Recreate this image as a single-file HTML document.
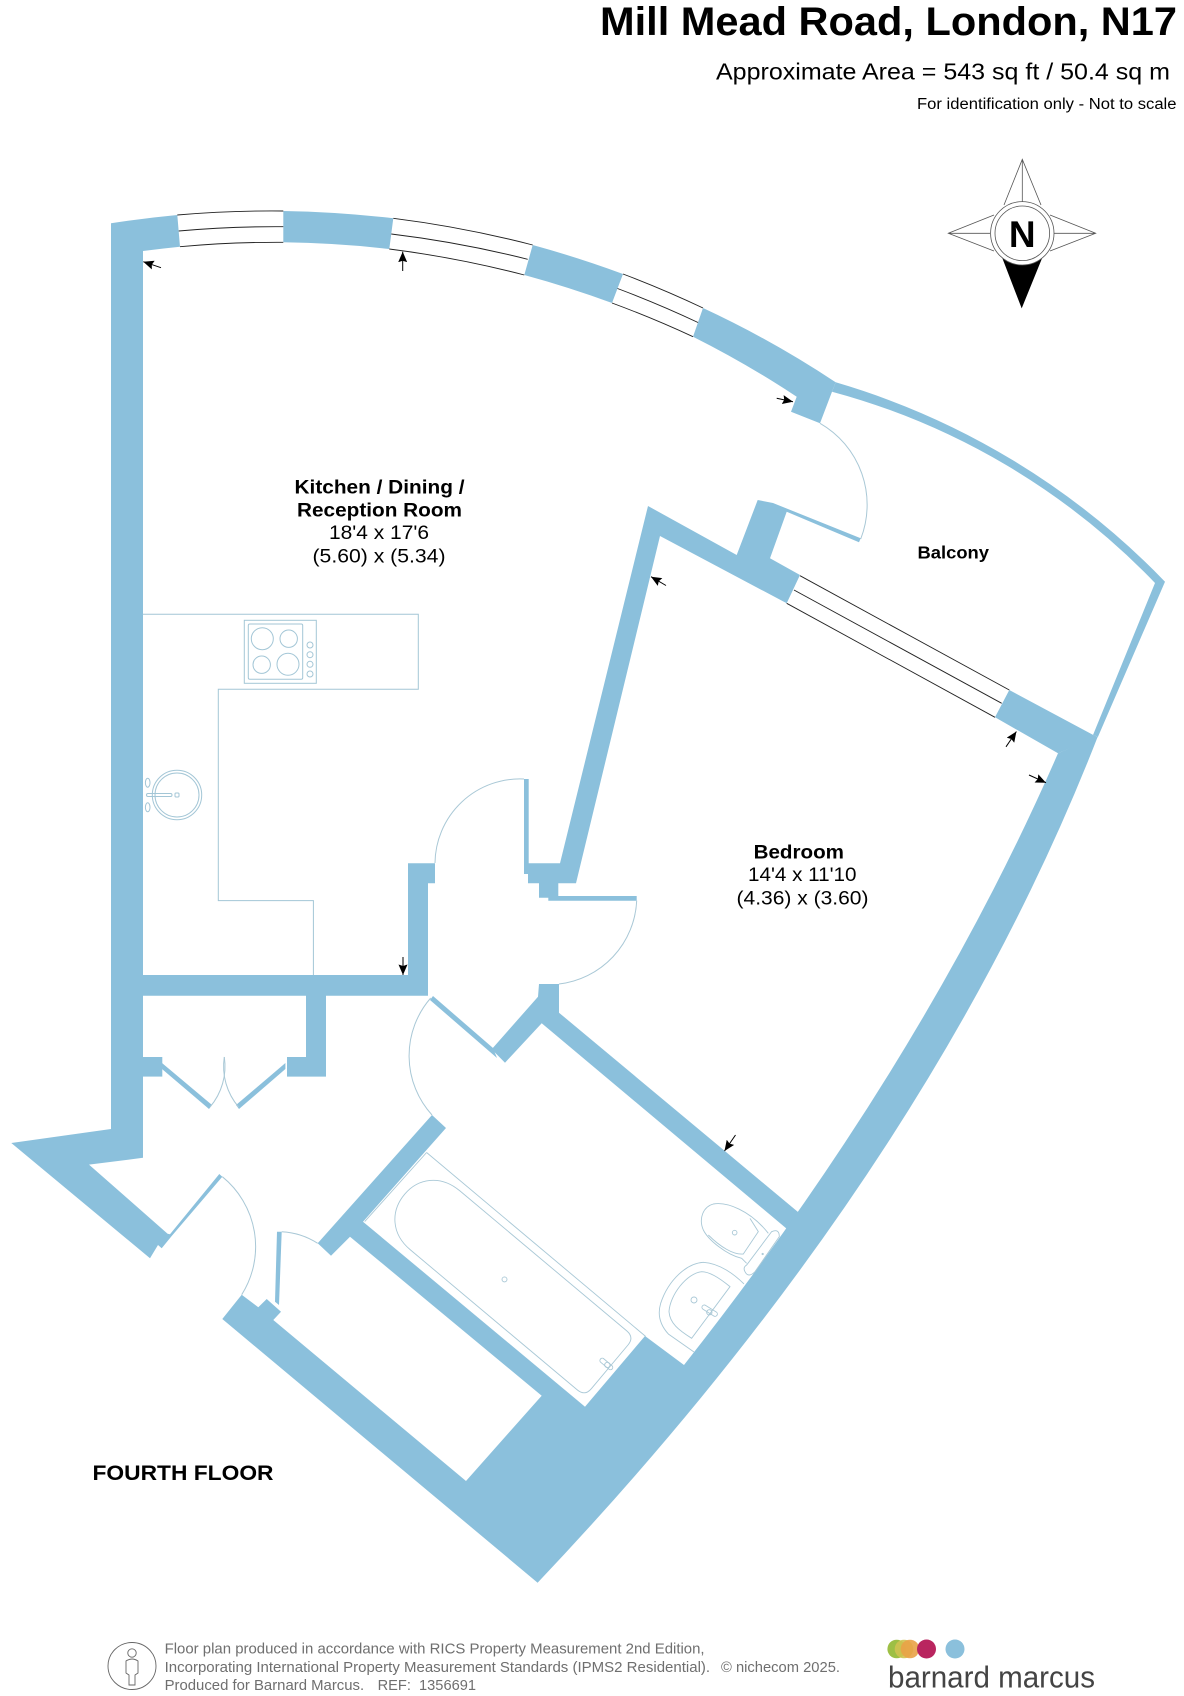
<!DOCTYPE html>
<html><head><meta charset="utf-8"><title>Mill Mead Road, London, N17</title>
<style>html,body{margin:0;padding:0;background:#fff}svg{display:block}text{font-family:"Liberation Sans",sans-serif}</style></head>
<body>
<svg xmlns="http://www.w3.org/2000/svg" width="1184" height="1696" viewBox="0 0 1184 1696">
<defs><marker id="a" markerUnits="userSpaceOnUse" markerWidth="12" markerHeight="10" refX="10.5" refY="4.5" orient="auto"><path d="M0,0L10.5,4.5L0,9L1.5,4.5Z" fill="#000"/></marker></defs>
<rect width="1184" height="1696" fill="#fff"/>

<g fill="#8bc0dc">
<!-- left wall and first wall segment -->
<path d="M111,223.3 A1100,1100 0 0 1 177.3,215 L180,246.7 A1070,1070 0 0 0 143,251 L143,1157.8 L89,1164.6 L167.6,1233.8 L170,1234.3 L219.3,1174 L222.3,1176.7 L171.7,1236 L161.7,1248.3 L158,1245 L150,1258.3 L11.3,1143 L111,1129 Z"/>
<path d="M143,975 H408 V863.3 H435 V883.3 H428 V995.7 H326 V1076.6 H287 V1057 H306 V995.7 H143 Z"/>
<rect x="143" y="1057" width="19.3" height="19.6"/>
<!-- curved wall segments -->
<path d="M283.3,211 A1100,1100 0 0 1 393.3,218.3 L389.3,249 A1070,1070 0 0 0 283.3,242.3 Z"/>
<path d="M532.7,245 A1100,1100 0 0 1 623,274 L612,303 A1070,1070 0 0 0 524.3,275 Z"/>
<path d="M703,308 A1000,1000 0 0 1 835.7,382.3 L832,391.7 L820,423.3 L791,411.7 L796.7,396.7 A1000,1000 0 0 0 693,336.7 Z"/>
<!-- balcony wall -->
<path d="M835.7,382.3 A750,750 0 0 1 1165,581.7 L1098,736.7 L1093,735 L1155,583 A700,700 0 0 0 832,391.7 Z"/>
<!-- bedroom west + north -->
<path d="M524,779 H528.7 V863.3 H560 L648,506 L736.7,555 L757.7,500 L773,503 L860.7,538.3 L859,542.3 L786.7,511.7 L770,558.3 L800,575 L786.7,603.3 L660,536 L576,883.3 H558.3 V896 H636.7 V900.7 H548.3 V897.7 H539 V883.3 H528 V874 H524 Z"/>
<path d="M1009.3,690 L1093.3,735 L1098,737 L1058,753.3 L995,717.3 Z"/>
<!-- bedroom south wall -->
<path d="M539,984 H559 V1012.7 L798,1212 L805,1216 L787,1229 L541.7,1023.3 L505,1062.7 L491.7,1049.3 L538,996.7 Z"/>
<path d="M430,1000 L433,996 L493,1048 L497,1058 Z"/>
<!-- south mass -->
<path d="M537.6,1582.7 L222.3,1319 L241.7,1294.7 L258.3,1307.3 L266.7,1299 L281,1311.7 L273.3,1320 L466,1481 L541.7,1395.7 L350,1236.7 L331,1255.7 L317.7,1243.3 L432,1115 L446,1128 L363,1221.7 L585,1406.7 L645,1336 L684,1365 Q925,1059 1058,753.3 L1098,736 Q929,1170 537.6,1582.7 Z"/>
<!-- thin leaves -->
<path d="M277,1231.7 H281.7 L279,1305 L275,1301.7 Z"/>
<path d="M162,1063 L212,1105 L209,1109 L162,1069 Z"/>
<path d="M285.4,1063 L236,1105 L239,1109 L285.4,1069 Z"/>
</g>

<!-- door swings -->
<g fill="none" stroke="#a9c8d6" stroke-width="1">
<path d="M820,423.3 A94,94 0 0 1 860.7,539"/>
<path d="M524,779 A85,85 0 0 0 435,863"/>
<path d="M636.7,900.7 A88,88 0 0 1 559,984"/>
<path d="M430.7,998 A88,88 0 0 0 432,1115"/>
<path d="M222.3,1176.7 A90,90 0 0 1 241.7,1294.7"/>
<path d="M281.7,1231.7 A73,73 0 0 1 317.7,1243.3"/>
<path d="M224.3,1057 A62.6,62.6 0 0 1 210,1107"/>
<path d="M224.3,1057 A62.6,62.6 0 0 0 238.6,1107"/>
</g>

<!-- windows -->
<g fill="none" stroke="#222" stroke-width="0.9">
<path d="M177.3,215 A1100,1100 0 0 1 283.3,211"/><path d="M178.7,231 A1085,1085 0 0 1 283.3,226.7"/><path d="M180,246.7 A1070,1070 0 0 1 283.3,242.3"/>
<path d="M393.3,218.3 A1100,1100 0 0 1 532.7,245"/><path d="M391.3,234 A1085,1085 0 0 1 527.7,259.3"/><path d="M389.3,249 A1070,1070 0 0 1 524.3,275"/>
<path d="M623,274 A1100,1100 0 0 1 703,308"/><path d="M617.5,288.5 A1085,1085 0 0 1 698,322.5"/><path d="M612,303 A1070,1070 0 0 1 693,336.7"/>
<path d="M800,575.7 L1009.3,690"/><path d="M794,590 L1001.7,703.3"/><path d="M786.7,603.3 L995,717.3"/>
</g>

<!-- kitchen -->
<g fill="none" stroke="#a3c6d6" stroke-width="1">
<path d="M142.7,614.3 H418.3 V689.3 H218.3 V900.6 H313.4 V975"/>
<rect x="244.3" y="620.3" width="72" height="63"/>
<rect x="248.3" y="624" width="54.4" height="55.3" rx="1.5"/>
<circle cx="262.3" cy="638.7" r="11"/><circle cx="288.7" cy="638.7" r="8.7"/><circle cx="261.7" cy="664.7" r="8.7"/><circle cx="288" cy="664.3" r="11"/>
<circle cx="310" cy="645" r="3"/><circle cx="310" cy="654.7" r="3"/><circle cx="310" cy="664.3" r="3"/><circle cx="310" cy="674" r="3"/>
<circle cx="177" cy="795" r="24.7"/><circle cx="177" cy="795" r="22"/>
<rect x="146.5" y="793.5" width="25.5" height="3" rx="1.5"/><rect x="175" y="793" width="4" height="4" rx="1"/>
<ellipse cx="147.7" cy="782.7" rx="2.3" ry="4.5"/><ellipse cx="147.7" cy="807.3" rx="2.3" ry="4.5"/>
</g>

<!-- bathroom -->
<g fill="none" stroke="#a9c8d6" stroke-width="0.9">
<path d="M426.6,1152.5 L645.6,1336.4"/>
<path d="M364.7,1221.6 L426.6,1152.5"/>
<g transform="translate(426.6 1152.5) rotate(40)">
<path d="M50,8 H268 Q278,8 278,18 V75 Q278,85 268,85 H50 C25,85 10,68 10,46 C10,25 25,8 50,8 Z"/>
</g>
<circle cx="504.5" cy="1279.4" r="2.5"/>
<g transform="translate(520 1100) scale(.3333)" stroke-width="2.7">
<rect x="236" y="785" width="46" height="14" rx="7" transform="rotate(40 259 792)"/>
<circle cx="262" cy="795" r="8"/>
</g>
<g transform="translate(640 1180) scale(.3333)" stroke-width="2.7">
<path d="M385,160 C330,90 260,65 220,72 C190,80 175,115 190,150 C205,180 260,225 305,235 L320,250"/>
<path d="M330,115 L355,155 L310,222 C280,225 240,200 205,165"/>
<path d="M395,155 Q418,145 418,170 L345,275 Q325,295 315,275 Q308,262 320,255 Z"/>
<circle cx="284" cy="158" r="7"/><circle cx="368" cy="222" r="2"/>
<path d="M312,312 C285,285 240,250 190,247 C140,250 85,300 62,370 C50,410 65,440 85,462 L162,516"/>
<path d="M270,320 C240,295 210,275 185,275 C140,280 90,345 87,395 C90,430 115,450 155,475 Z"/>
<circle cx="162" cy="360" r="9"/>
<rect x="183" y="385" width="52" height="14" rx="7" transform="rotate(32 209 392)"/>
<circle cx="208" cy="397" r="8"/>
</g>
</g>

<!-- arrows -->
<g stroke="#000" stroke-width="1" fill="none">
<line x1="161" y1="267.7" x2="143.3" y2="261.7" marker-end="url(#a)"/>
<line x1="402.7" y1="271" x2="402.7" y2="251.7" marker-end="url(#a)"/>
<line x1="776.7" y1="398.3" x2="793" y2="401.7" marker-end="url(#a)"/>
<line x1="666" y1="585.5" x2="651" y2="576.7" marker-end="url(#a)"/>
<line x1="1006" y1="746.8" x2="1016.4" y2="731.5" marker-end="url(#a)"/>
<line x1="1029" y1="775" x2="1046" y2="782.7" marker-end="url(#a)"/>
<line x1="403" y1="957" x2="403" y2="975" marker-end="url(#a)"/>
<line x1="735.5" y1="1135" x2="724.5" y2="1151" marker-end="url(#a)"/>
</g>

<!-- compass -->
<g fill="none" stroke="#555" stroke-width="0.8">
<path d="M1004,205 L1022.3,159.3 L1041,205 M1022.3,159.3 V202"/>
<path d="M994,215 L948.3,233.3 L994,251 M948.3,233.3 H990"/>
<path d="M1050,215 L1095.7,233.3 L1050,251 M1095.7,233.3 H1054"/>
<path d="M1002.7,258 L1021.7,307.3 L1041.7,258 Z" fill="#000" stroke="#000"/>
<circle cx="1022.3" cy="233.3" r="31.7" fill="#fff"/>
<circle cx="1022.3" cy="233.3" r="27.3"/>
</g>
<text x="1022.3" y="247" font-size="37" font-weight="700" text-anchor="middle" fill="#000">N</text>

<!-- text -->
<text x="600" y="35" font-size="40" font-weight="700" textLength="577" lengthAdjust="spacingAndGlyphs" fill="#000">Mill Mead Road, London, N17</text>
<text x="716" y="79.5" font-size="23" textLength="454" lengthAdjust="spacingAndGlyphs" fill="#000">Approximate Area = 543 sq ft / 50.4 sq m</text>
<text x="917" y="109" font-size="15.5" textLength="259.5" lengthAdjust="spacingAndGlyphs" fill="#000">For identification only - Not to scale</text>

<text x="294.5" y="493.5" font-size="19" font-weight="700" textLength="170" lengthAdjust="spacingAndGlyphs">Kitchen / Dining /</text>
<text x="297" y="516.4" font-size="19" font-weight="700" textLength="165" lengthAdjust="spacingAndGlyphs">Reception Room</text>
<text x="329" y="539" font-size="19" textLength="100" lengthAdjust="spacingAndGlyphs">18'4 x 17'6</text>
<text x="312.5" y="562.5" font-size="19" textLength="133" lengthAdjust="spacingAndGlyphs">(5.60) x (5.34)</text>
<text x="917.5" y="558.5" font-size="17.5" font-weight="700" textLength="71.5" lengthAdjust="spacingAndGlyphs">Balcony</text>
<text x="753.6" y="858.5" font-size="19" font-weight="700" textLength="90.4" lengthAdjust="spacingAndGlyphs">Bedroom</text>
<text x="748" y="881" font-size="19" textLength="108.5" lengthAdjust="spacingAndGlyphs">14'4 x 11'10</text>
<text x="736.5" y="904.4" font-size="19" textLength="132" lengthAdjust="spacingAndGlyphs">(4.36) x (3.60)</text>
<text x="92.5" y="1480" font-size="21" font-weight="700" textLength="181" lengthAdjust="spacingAndGlyphs">FOURTH FLOOR</text>

<g fill="#6f6f6f" font-size="14.5">
<text x="164.6" y="1653.4" textLength="540" lengthAdjust="spacingAndGlyphs">Floor plan produced in accordance with RICS Property Measurement 2nd Edition,</text>
<text x="164.6" y="1672" textLength="545.5" lengthAdjust="spacingAndGlyphs">Incorporating International Property Measurement Standards (IPMS2 Residential).</text>
<text x="721" y="1672" textLength="119" lengthAdjust="spacingAndGlyphs">© nichecom 2025.</text>
<text x="164.6" y="1690" textLength="199.5" lengthAdjust="spacingAndGlyphs">Produced for Barnard Marcus.</text>
<text x="377.6" y="1690" textLength="98.4" lengthAdjust="spacingAndGlyphs">REF:&#160; 1356691</text>
</g>
<g fill="none" stroke="#666" stroke-width="0.9">
<ellipse cx="132" cy="1666" rx="24" ry="23.5"/>
<circle cx="132" cy="1653" r="4.2"/>
<path d="M126,1661 Q132,1657 138,1661 L138,1673 L135,1675 L135,1685 H129 L129,1675 L126,1673 Z"/>
</g>

<!-- logo -->
<circle cx="896.7" cy="1649" r="9.3" fill="#9dbf45"/>
<circle cx="904" cy="1649" r="9.3" fill="#cfc250" opacity=".9"/>
<circle cx="910" cy="1649" r="9.3" fill="#e9a247" opacity=".9"/>
<circle cx="926.5" cy="1649" r="9.5" fill="#b9255f"/>
<circle cx="955" cy="1649" r="9.5" fill="#8bc0dc"/>
<text x="888" y="1687.5" font-size="31" textLength="207" lengthAdjust="spacingAndGlyphs" fill="#444">barnard marcus</text>
</svg>
</body></html>
